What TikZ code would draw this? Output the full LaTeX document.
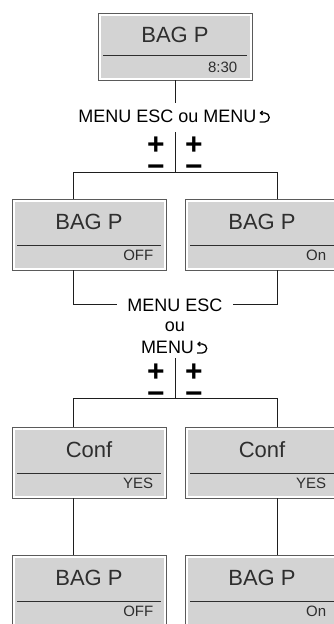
\documentclass[tikz,border=0pt]{standalone}
\usepackage{fontspec}
\setmainfont{Liberation Sans}
\usetikzlibrary{arrows.meta,positioning}
\definecolor{lcdgray}{HTML}{D3D3D3}
\definecolor{lcdedge}{HTML}{5A5A5A}
\definecolor{lcdink}{HTML}{2E2E2E}
\definecolor{wireink}{HTML}{1E1E1E}

\tikzset{
  lcd/.style={rectangle, draw=lcdedge, line width=0.9pt, fill=white,
    minimum width=154pt, minimum height=71pt, inner sep=0pt,
    path picture={
      \fill[lcdgray] ([shift={(2.5pt,2.5pt)}]path picture bounding box.south west)
        rectangle ([shift={(-2.5pt,-2.5pt)}]path picture bounding box.north east);
      \draw[lcdink, line width=0.8pt] ([shift={(5pt,25pt)}]path picture bounding box.south west)
        -- ([shift={(-5pt,25pt)}]path picture bounding box.south east);
    }},
  lcdtitle/.style={anchor=base, inner sep=0pt, text=lcdink, font=\fontsize{22}{24}\selectfont},
  lcdvalue/.style={anchor=base east, inner sep=0pt, text=lcdink, font=\fontsize{15}{17}\selectfont},
  keylabel/.style={anchor=base, inner sep=0pt, font=\fontsize{18}{21}\selectfont},
  pm/.style={anchor=base, inner sep=0pt, align=center, font=\bfseries\fontsize{30}{22}\selectfont},
  wireline/.style={draw=wireink, line width=1pt},
  retline/.style={draw=black, line width=1.3pt, {Straight Barb[length=2pt,width=4pt]}-},
}

\begin{document}
\begin{tikzpicture}[x=1pt, y=-1pt]
  \useasboundingbox (0,0) rectangle (334,624);
  \clip (0,0) rectangle (334,624);

  % Displays
  \node[lcd, minimum height=67pt] (bagT) at (175,46.5) {};
  \node[lcd] (bagOffA) at (89,234.5) {};
  \node[lcd] (bagOnA) at (262,234.5) {};
  \node[lcd] (confL) at (89,462.5) {};
  \node[lcd] (confR) at (262,462.5) {};
  \node[lcd] (bagOffB) at (89,590.5) {};
  \node[lcd] (bagOnB) at (262,590.5) {};

  % Display texts
  \node[lcdtitle] (bagTt) at ([yshift=-30pt]bagT.north) {BAG P};
  \node[lcdvalue] (bagTv) at ([shift={(-15pt,8pt)}]bagT.south east) {8:30};
  \node[lcdtitle] (bagOffAt) at ([yshift=-31pt]bagOffA.north) {BAG P};
  \node[lcdvalue] (bagOffAv) at ([shift={(-13pt,10pt)}]bagOffA.south east) {OFF};
  \node[lcdtitle] (bagOnAt) at ([yshift=-31pt]bagOnA.north) {BAG P};
  \node[lcdvalue] (bagOnAv) at ([shift={(-13pt,10pt)}]bagOnA.south east) {On};
  \node[lcdtitle] (confLt) at ([yshift=-31pt]confL.north) {Conf};
  \node[lcdvalue] (confLv) at ([shift={(-13pt,10pt)}]confL.south east) {YES};
  \node[lcdtitle] (confRt) at ([yshift=-31pt]confR.north) {Conf};
  \node[lcdvalue] (confRv) at ([shift={(-13pt,10pt)}]confR.south east) {YES};
  \node[lcdtitle] (bagOffBt) at ([yshift=-31pt]bagOffB.north) {BAG P};
  \node[lcdvalue] (bagOffBv) at ([shift={(-13pt,10pt)}]bagOffB.south east) {OFF};
  \node[lcdtitle] (bagOnBt) at ([yshift=-31pt]bagOnB.north) {BAG P};
  \node[lcdvalue] (bagOnBv) at ([shift={(-13pt,10pt)}]bagOnB.south east) {On};

  % Key labels
  \node[keylabel] (keyA) at (175,122) {MENU ESC ou MENU\kern15pt};
  \draw[retline] ([shift={(-12pt,9pt)}]keyA.base east) -- ++(5,0)
    arc[start angle=90, end angle=-90, radius=4.5pt] -- ++(-5,0);
  \node[keylabel] (keyB) at (175,311) {MENU ESC};
  \node[keylabel] (keyBou) at (175,331) {ou};
  \node[keylabel] (keyBmenu) at (175,353) {MENU\kern15pt};
  \draw[retline] ([shift={(-12pt,9pt)}]keyBmenu.base east) -- ++(5,0)
    arc[start angle=90, end angle=-90, radius=4.5pt] -- ++(-5,0);

  % Plus / minus keys
  \node[pm] (pmAL) at (156,176) {+\\−};
  \node[pm] (pmAR) at (194,176) {+\\−};
  \node[pm] (pmBL) at (156,403) {+\\−};
  \node[pm] (pmBR) at (194,403) {+\\−};

  % Connectors
  \coordinate (stemA) at (175,132);
  \coordinate (forkA) at (175,172);
  \coordinate (dropAL) at (73,172);
  \coordinate (dropAR) at (277,172);
  \coordinate (stemB) at (175,358);
  \coordinate (forkB) at (175,398);
  \coordinate (dropBL) at (73,398);
  \coordinate (dropBR) at (277,398);

  \draw[wireline] (bagT.south) -- ([yshift=6pt]keyA.north);
  \draw[wireline] (stemA) -- (forkA);
  \draw[wireline] (bagOffA.north -| dropAL) |- (dropAR) -- (bagOnA.north -| dropAR);
  \draw[wireline] (bagOffA.south -| dropAL) |- ([xshift=-10pt]keyB.west);
  \draw[wireline] (bagOnA.south -| dropAR) |- ([xshift=10pt]keyB.east);
  \draw[wireline] (stemB) -- (forkB);
  \draw[wireline] (confL.north -| dropBL) |- (dropBR) -- (confR.north -| dropBR);
  \draw[wireline] (confL.south -| dropBL) -- (bagOffB.north -| dropBL);
  \draw[wireline] (confR.south -| dropBR) -- (bagOnB.north -| dropBR);
\end{tikzpicture}
\end{document}
